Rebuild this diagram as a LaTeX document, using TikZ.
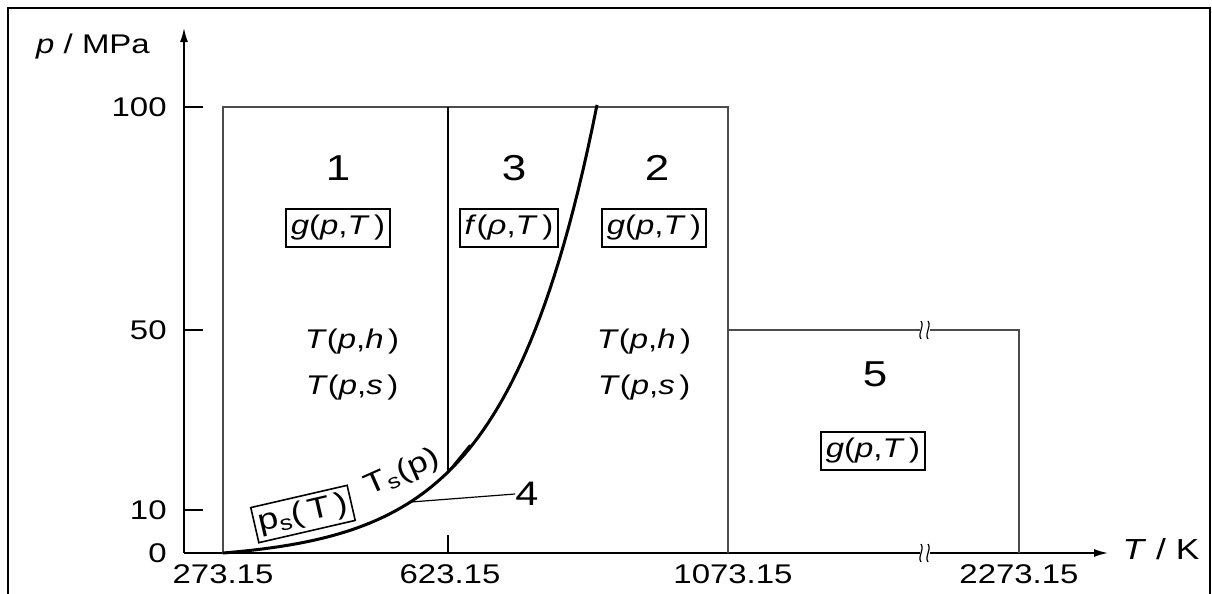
\documentclass[tikz,border=0pt]{standalone}
\usepackage{fontspec}
\setmainfont{Liberation Sans}[FakeStretch=1.22]
\usetikzlibrary{arrows.meta,positioning}

\begin{document}
\begin{tikzpicture}[x=0.5pt,y=-0.5pt,
 lbl/.style={font=\fontsize{13.5}{15}\selectfont,inner sep=0pt},
 num/.style={font=\fontsize{18}{20}\selectfont,inner sep=0pt},
 fn/.style={draw,line width=0.8pt,font=\fontsize{13.5}{15}\selectfont,inner sep=2.5pt,minimum height=19pt},
 axis/.style={line width=0.8pt,-{Latex[length=7pt,width=4pt]}},
 bnd/.style={line width=0.8pt,draw=black!70}]
\useasboundingbox (0,0) rectangle (1212,594);
\draw[line width=1.4pt] (8,600) -- (8,8) -- (1210,8) -- (1210,600);
% axes
\coordinate (o) at (184,553);
\draw[axis] (o) -- (184,28);
\draw[axis] (o) -- (1108,553);
\node[lbl] (pax) at (93,47) {\textit{p} / MPa};
\node[lbl,font=\fontsize{14.5}{16}\selectfont] (tax) at (1161,549) {\textit{T} / K};
\foreach \y/\v in {107/100,330/50,510/10} {
 \draw[line width=0.8pt] (184,\y) -- (203,\y);
 \node[lbl,anchor=east] at (167,\y) {\v};
}
\node[lbl,anchor=east] at (167,553) {0};
\draw[line width=0.8pt] (448,553) -- (448,535);
\foreach \x/\v in {223/273.15,450/623.15,733/1073.15,1019/2273.15}
 \node[lbl] at (\x,574) {\v};
% regions
\draw[bnd] (223,553) -- (223,107) -- (728,107) -- (728,553);
\draw[bnd] (728,330) -- (1019,330) -- (1019,553);
\foreach \y in {330,553} {
 \fill[white] (920,\y-5) rectangle (930,\y+5);
 \draw[line width=0.6pt] (921,\y-9) .. controls (925,\y-3) and (917,\y+3) .. (921,\y+9);
 \draw[line width=0.6pt] (928,\y-9) .. controls (932,\y-3) and (924,\y+3) .. (928,\y+9);
}
% saturation line
\coordinate (c4) at (411,502);
\coordinate (cm) at (448,472);
\draw[line width=1.5pt] plot[domain=223:597,samples=80] (\x,{553-7.44*(exp(0.011*(\x-223))-1)});
\draw[line width=0.9pt] (448,107) -- (cm);
\draw[line width=1pt] (cm) -- ++(22,-27);
% labels
\node[num] (n1) at (338,168) {1};
\node[num] (n3) at (514,168) {3};
\node[num] (n2) at (657,168) {2};
\node[num] (n5) at (875,374) {5};
\node[fn] (g1) at (338,228) {\textit{g}(\textit{p},\textit{T}\,)};
\node[fn] (f3) at (509,228) {\textit{f}(\textit{ρ},\textit{T}\,)};
\node[fn] (g2) at (654,228) {\textit{g}(\textit{p},\textit{T}\,)};
\node[fn] (g5) at (873,451) {\textit{g}(\textit{p},\textit{T}\,)};
\node[lbl] (th1) at (352,342) {\textit{T}(\textit{p},\textit{h}\,)};
\node[lbl,below=10pt of th1] (ts1) {\textit{T}(\textit{p},\textit{s}\,)};
\node[lbl] (th2) at (644,342) {\textit{T}(\textit{p},\textit{h}\,)};
\node[lbl,below=10pt of th2] (ts2) {\textit{T}(\textit{p},\textit{s}\,)};
\node[fn,rotate=13,minimum height=18pt,font=\fontsize{15}{16}\selectfont,inner sep=2pt] (ps) at (303,514) {p\textsubscript{s}(\,T\,)};
\node[lbl,rotate=24,font=\fontsize{14.5}{16}\selectfont] (tsat) at (402,473) {T\textsubscript{s}(p)};
\node[num,font=\fontsize{17}{19}\selectfont] (n4) at (527,494) {4};
\draw[line width=0.6pt] (c4) -- (n4.west);
\end{tikzpicture}
\end{document}
